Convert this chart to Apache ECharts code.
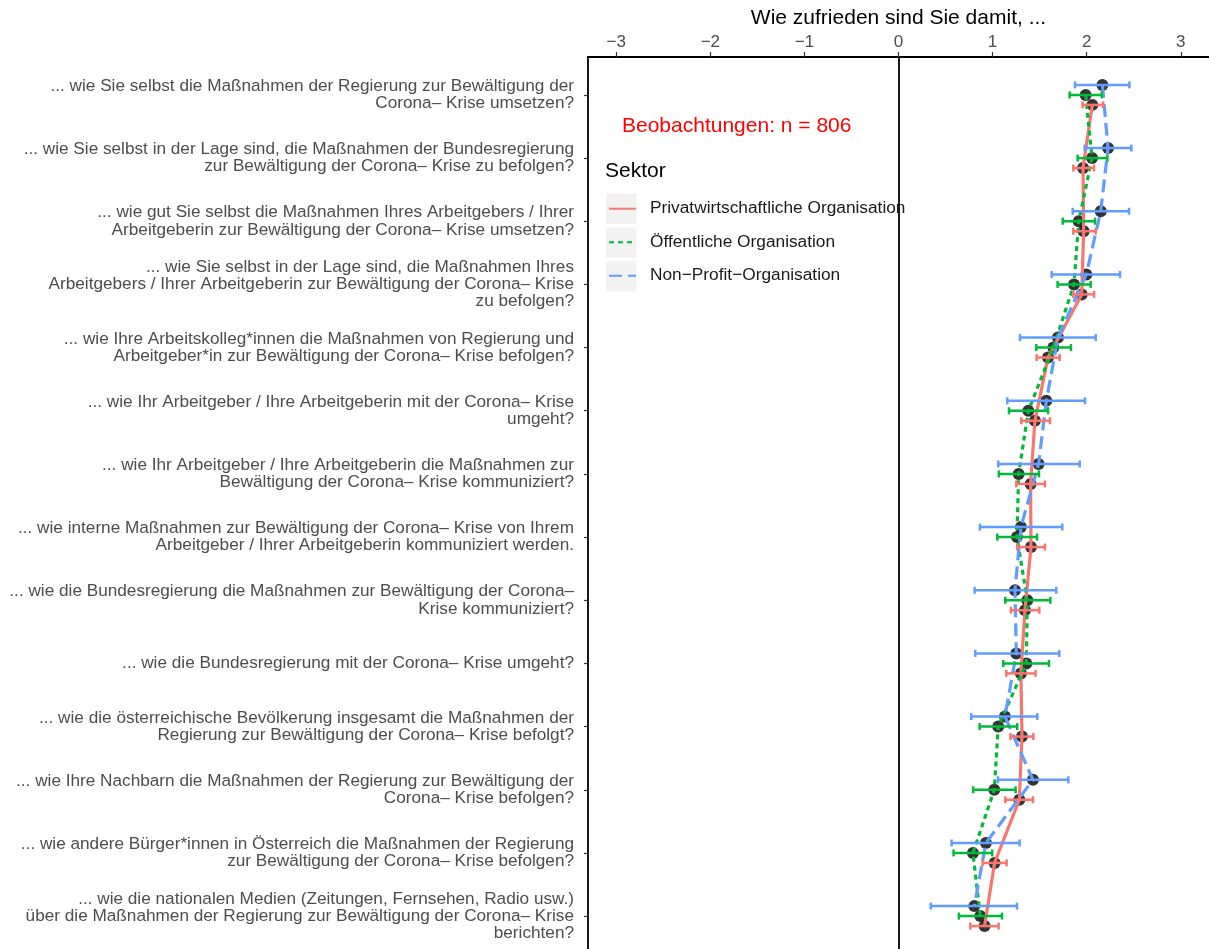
<!DOCTYPE html>
<html>
<head>
<meta charset="utf-8">
<script src="https://cdn.jsdelivr.net/npm/echarts@6/dist/echarts.min.js"></script>
<style>html,body{margin:0;padding:0;background:#fff;}#c{width:1209px;height:949px;}</style>
</head>
<body>
<div id="c"></div>
<script>
const categories = [
  "... wie Sie selbst die Maßnahmen der Regierung zur Bewältigung der\nCorona– Krise umsetzen?",
  "... wie Sie selbst in der Lage sind, die Maßnahmen der Bundesregierung\nzur Bewältigung der Corona– Krise zu befolgen?",
  "... wie gut Sie selbst die Maßnahmen Ihres Arbeitgebers / Ihrer\nArbeitgeberin zur Bewältigung der Corona– Krise umsetzen?",
  "... wie Sie selbst in der Lage sind, die Maßnahmen Ihres\nArbeitgebers / Ihrer Arbeitgeberin zur Bewältigung der Corona– Krise\nzu befolgen?",
  "... wie Ihre Arbeitskolleg*innen die Maßnahmen von Regierung und\nArbeitgeber*in zur Bewältigung der Corona– Krise befolgen?",
  "... wie Ihr Arbeitgeber / Ihre Arbeitgeberin mit der Corona– Krise\numgeht?",
  "... wie Ihr Arbeitgeber / Ihre Arbeitgeberin die Maßnahmen zur\nBewältigung der Corona– Krise kommuniziert?",
  "... wie interne Maßnahmen zur Bewältigung der Corona– Krise von Ihrem\nArbeitgeber / Ihrer Arbeitgeberin kommuniziert werden.",
  "... wie die Bundesregierung die Maßnahmen zur Bewältigung der Corona–\nKrise kommuniziert?",
  "... wie die Bundesregierung mit der Corona– Krise umgeht?",
  "... wie die österreichische Bevölkerung insgesamt die Maßnahmen der\nRegierung zur Bewältigung der Corona– Krise befolgt?",
  "... wie Ihre Nachbarn die Maßnahmen der Regierung zur Bewältigung der\nCorona– Krise befolgen?",
  "... wie andere Bürger*innen in Österreich die Maßnahmen der Regierung\nzur Bewältigung der Corona– Krise befolgen?",
  "... wie die nationalen Medien (Zeitungen, Fernsehen, Radio usw.)\nüber die Maßnahmen der Regierung zur Bewältigung der Corona– Krise\nberichten?"
];
const sectors = ["Privatwirtschaftliche Organisation", "Öffentliche Organisation", "Non−Profit−Organisation"];
const xTicks = [-3, -2, -1, 0, 1, 2, 3];

// Privatwirtschaftliche Organisation
const privMean = [2.060, 1.961, 1.968, 1.947, 1.589, 1.450, 1.404, 1.408, 1.344, 1.301, 1.312, 1.284, 1.021, 0.915];
const privLo   = [1.957, 1.858, 1.858, 1.858, 1.468, 1.305, 1.252, 1.262, 1.195, 1.146, 1.191, 1.135, 0.894, 0.763];
const privHi   = [2.174, 2.078, 2.096, 2.078, 1.713, 1.610, 1.557, 1.557, 1.497, 1.457, 1.433, 1.429, 1.149, 1.064];
// Öffentliche Organisation
const oeffMean = [1.989, 2.057, 1.915, 1.865, 1.646, 1.380, 1.277, 1.259, 1.369, 1.358, 1.060, 1.018, 0.791, 0.869];
const oeffLo   = [1.819, 1.904, 1.745, 1.691, 1.465, 1.174, 1.067, 1.050, 1.135, 1.114, 0.862, 0.794, 0.585, 0.642];
const oeffHi   = [2.160, 2.220, 2.089, 2.043, 1.833, 1.589, 1.493, 1.472, 1.614, 1.599, 1.262, 1.245, 0.996, 1.100];
// Non-Profit-Organisation
const npMean = [2.167, 2.227, 2.149, 1.996, 1.695, 1.571, 1.489, 1.301, 1.238, 1.252, 1.131, 1.429, 0.929, 0.805];
const npLo   = [1.876, 1.979, 1.851, 1.628, 1.291, 1.156, 1.060, 0.865, 0.809, 0.816, 0.773, 1.057, 0.564, 0.344];
const npHi   = [2.454, 2.475, 2.450, 2.354, 2.096, 1.982, 1.926, 1.741, 1.677, 1.709, 1.475, 1.805, 1.287, 1.259];

const colors = ["#F8766D", "#00BA38", "#619CFF"];
const dodge = [0.158, 0, -0.158];
const means = [privMean, oeffMean, npMean];
const los = [privLo, oeffLo, npLo];
const his = [privHi, oeffHi, npHi];
const dashes = ["solid", [5, 4], [13, 6]];
const positions = categories.map((c, i) => i + 1);
const FONT = 'Liberation Sans, Arial, sans-serif';

function ebRender(color) {
  return function (params, api) {
    const a = api.coord([api.value(0), api.value(2)]);
    const b = api.coord([api.value(1), api.value(2)]);
    const h = 3.5;
    const st = { stroke: color, lineWidth: 2.5 };
    return { type: 'group', children: [
      { type: 'line', shape: { x1: a[0], y1: a[1], x2: b[0], y2: b[1] }, style: st },
      { type: 'line', shape: { x1: a[0], y1: a[1] - h, x2: a[0], y2: a[1] + h }, style: st },
      { type: 'line', shape: { x1: b[0], y1: b[1] - h, x2: b[0], y2: b[1] + h }, style: st }
    ]};
  };
}

const series = [];
for (let s = 0; s < 3; s++) {
  const pts = means[s].map((v, i) => [v, positions[i] + dodge[s]]);
  series.push({
    type: 'scatter', name: 'pt' + s, data: pts, symbol: 'circle', symbolSize: 12,
    itemStyle: { color: '#000' }, z: 1, silent: true,
    markLine: s === 0 ? { silent: true, symbol: 'none', label: { show: false },
      lineStyle: { color: '#000', width: 1.8, type: 'solid' }, data: [{ xAxis: 0 }] } : undefined
  });
}
for (let s = 0; s < 3; s++) {
  const pts = means[s].map((v, i) => [v, positions[i] + dodge[s]]);
  series.push({
    type: 'line', name: sectors[s], data: pts, symbol: 'none', showSymbol: false,
    lineStyle: { color: colors[s], width: 3.2, type: dashes[s] }, itemStyle: { color: colors[s] },
    z: 2, silent: true
  });
}
for (let s = 0; s < 3; s++) {
  const d = means[s].map((v, i) => [los[s][i], his[s][i], positions[i] + dodge[s]]);
  series.push({
    type: 'custom', name: 'eb' + s, data: d, renderItem: ebRender(colors[s]),
    encode: { x: [0, 1], y: 2 }, z: 3, silent: true
  });
}

const chart = echarts.init(document.getElementById('c'));
chart.setOption({
  animation: false,
  backgroundColor: '#fff',
  textStyle: { fontFamily: FONT },
  grid: { left: 588, top: 57, width: 621, height: 897, outerBoundsMode: 'none', containLabel: false },
  title: [
    { text: 'Beobachtungen: n = 806', left: 622, top: 116, padding: 0, z: 10,
      textStyle: { color: '#ff0000', fontSize: 21, fontWeight: 'normal', fontFamily: FONT } },
    { text: 'Sektor', left: 605, top: 161, padding: 0, z: 10,
      textStyle: { color: '#000', fontSize: 21, fontWeight: 'normal', fontFamily: FONT } }
  ],
  legend: {
    data: sectors, orient: 'vertical', left: 608, top: 198.7, padding: 0, z: 10,
    itemWidth: 27, itemHeight: 14, itemGap: 13.5, selectedMode: false,
    itemStyle: { opacity: 0 },
    textStyle: { fontSize: 17.3, lineHeight: 20, color: '#1a1a1a', padding: [0, 0, 0, 9], fontFamily: FONT }
  },
  graphic: [
    { type: 'rect', shape: { x: 600, y: 150, width: 307, height: 153 }, style: { fill: '#fff' }, z: 5, z2: 0, silent: true },
    { type: 'rect', shape: { x: 606, y: 193.5, width: 30.5, height: 30.5 }, style: { fill: '#f2f2f2' }, z: 5, z2: 1, silent: true },
    { type: 'rect', shape: { x: 606, y: 227.3, width: 30.5, height: 30.5 }, style: { fill: '#f2f2f2' }, z: 5, z2: 1, silent: true },
    { type: 'rect', shape: { x: 606, y: 260.8, width: 30.5, height: 30.5 }, style: { fill: '#f2f2f2' }, z: 5, z2: 1, silent: true }
  ],
  xAxis: {
    type: 'value', position: 'top', min: -3.3, max: 3.3,
    name: 'Wie zufrieden sind Sie damit, ...', nameLocation: 'middle', nameGap: 25,
    nameTextStyle: { fontSize: 21, color: '#000', fontFamily: FONT },
    axisLine: { show: true, onZero: false, lineStyle: { color: '#000', width: 1.8 } },
    axisTick: { show: true, length: 5, customValues: xTicks, lineStyle: { color: '#333', width: 1.2 } },
    axisLabel: { customValues: xTicks, margin: 6, fontSize: 17, color: '#4d4d4d', fontFamily: FONT,
      formatter: v => (v < 0 ? '−' + Math.abs(v) : String(v)) },
    splitLine: { show: false }
  },
  yAxis: {
    type: 'value', inverse: true, min: 0.4, max: 14.6,
    axisLine: { show: true, onZero: false, lineStyle: { color: '#000', width: 1.8 } },
    axisTick: { show: true, length: 4, customValues: positions, lineStyle: { color: '#333', width: 1.2 } },
    axisLabel: { customValues: positions, margin: 14, fontSize: 17.2, lineHeight: 17.3, color: '#4d4d4d', align: 'right',
      padding: [6, 0, 0, 0], fontFamily: FONT, formatter: v => categories[Math.round(v) - 1] },
    splitLine: { show: false }
  },
  series: series
});
</script>
</body>
</html>
